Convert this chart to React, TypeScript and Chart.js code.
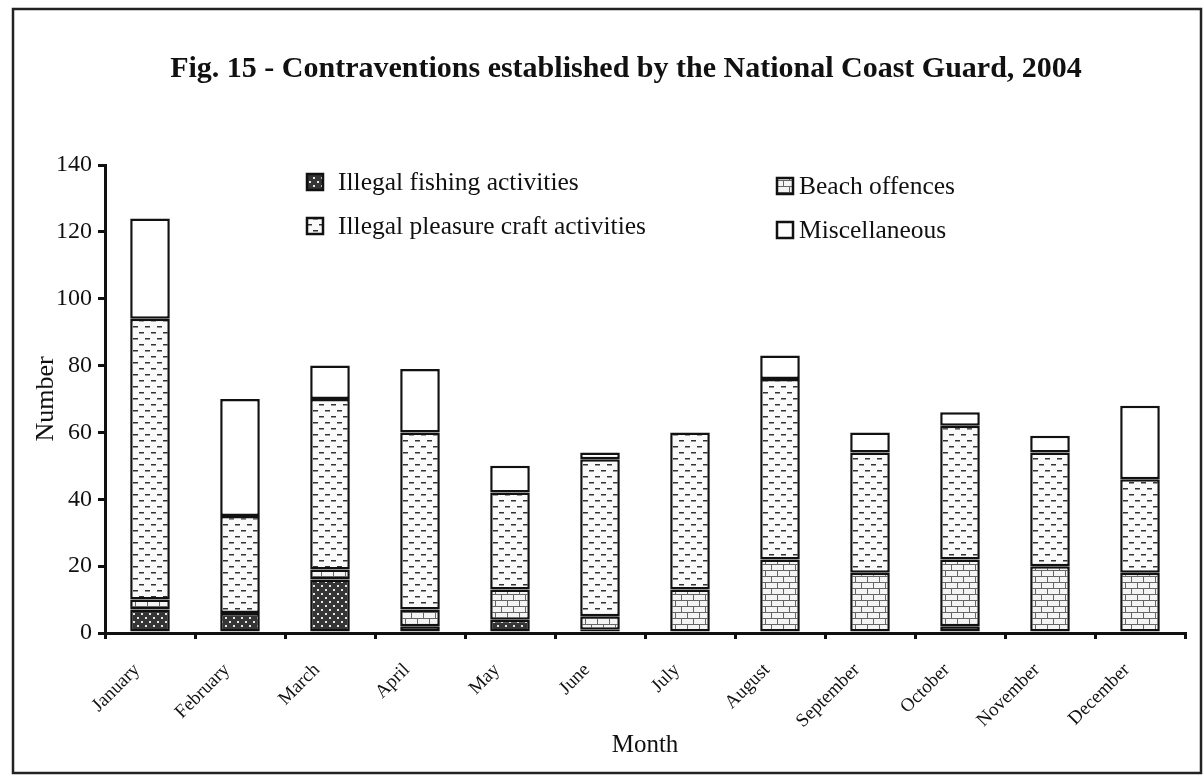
import React, { useEffect, useRef } from "react";
import { Chart, registerables } from "chart.js";

Chart.register(...registerables);

const months = ["January", "February", "March", "April", "May", "June", "July", "August", "September", "October", "November", "December"];
const fishing = [7, 6, 16, 2, 4, 1, 0, 0, 0, 2, 0, 0];
const beach = [3, 0, 3, 5, 9, 4, 13, 22, 18, 20, 20, 18];
const pleasure = [84, 29, 51, 53, 29, 47, 47, 54, 36, 40, 34, 28];
const misc = [30, 35, 10, 19, 8, 2, 0, 7, 6, 4, 5, 22];
const yTicks = [0, 20, 40, 60, 80, 100, 120, 140];

const SERIF = "'Liberation Serif', 'Times New Roman', serif";

function makePattern(w: number, h: number, draw: (c: CanvasRenderingContext2D) => void): CanvasPattern | string {
  const cv = document.createElement("canvas");
  cv.width = w;
  cv.height = h;
  const c = cv.getContext("2d");
  if (!c) return "#fff";
  draw(c);
  const p = c.createPattern(cv, "repeat");
  return p || "#fff";
}

export default function App() {
  const ref = useRef<HTMLCanvasElement | null>(null);
  useEffect(() => {
    if (!ref.current) return;
    const fishPat = makePattern(8, 8, (c) => {
      c.fillStyle = "#353535";
      c.fillRect(0, 0, 8, 8);
      c.fillStyle = "#e8e8e8";
      c.fillRect(1, 1, 2, 2);
      c.fillRect(5, 5, 2, 2);
    });
    const pleasurePat = makePattern(12, 12, (c) => {
      c.fillStyle = "#fafafa";
      c.fillRect(0, 0, 12, 12);
      c.fillStyle = "#333";
      c.fillRect(1, 2, 5, 1.5);
      c.fillRect(7, 8, 5, 1.5);
    });
    const beachPat = makePattern(12, 12, (c) => {
      c.fillStyle = "#f4f4f4";
      c.fillRect(0, 0, 12, 12);
      c.fillStyle = "#666";
      c.fillRect(0, 0, 12, 1);
      c.fillRect(0, 6, 12, 1);
      c.fillRect(3, 0, 1, 6);
      c.fillRect(9, 6, 1, 6);
    });

    const common = {
      borderColor: "#111",
      borderWidth: 2.5,
      borderSkipped: false as const,
      barPercentage: 0.44,
      categoryPercentage: 1,
    };

    const decor = {
      id: "decor",
      beforeDraw(chart: any) {
        const ctx = chart.ctx;
        ctx.save();
        ctx.fillStyle = "#fff";
        ctx.fillRect(0, 0, chart.width, chart.height);
        ctx.restore();
      },
      afterDraw(chart: any) {
        const ctx = chart.ctx;
        ctx.save();
        ctx.strokeStyle = "#222";
        ctx.lineWidth = 2.5;
        ctx.strokeRect(13, 9, 1188, 764);
        ctx.fillStyle = "#111";
        ctx.font = `bold 30px ${SERIF}`;
        ctx.textAlign = "center";
        ctx.textBaseline = "middle";
        ctx.fillText("Fig. 15 - Contraventions established by the National Coast Guard, 2004", 626, 69);
        const items = [
          { ds: 0, x: 307, y: 182 },
          { ds: 2, x: 307, y: 226 },
          { ds: 1, x: 777, y: 186 },
          { ds: 3, x: 777, y: 230 },
        ];
        ctx.font = `25.5px ${SERIF}`;
        ctx.textAlign = "left";
        for (const it of items) {
          const d = chart.data.datasets[it.ds];
          ctx.fillStyle = d.backgroundColor;
          ctx.fillRect(it.x, it.y - 8, 16, 16);
          ctx.strokeStyle = "#111";
          ctx.lineWidth = 2.5;
          ctx.strokeRect(it.x, it.y - 8, 16, 16);
          ctx.fillStyle = "#111";
          ctx.fillText(d.label, it.x + (it.x < 500 ? 31 : 22), it.y + 1);
        }
        ctx.restore();
      },
    };

    const chart = new Chart(ref.current, {
      type: "bar",
      data: {
        labels: months,
        datasets: [
          { label: "Illegal fishing activities", data: fishing, backgroundColor: fishPat as any, ...common },
          { label: "Beach offences", data: beach, backgroundColor: beachPat as any, ...common },
          { label: "Illegal pleasure craft activities", data: pleasure, backgroundColor: pleasurePat as any, ...common },
          { label: "Miscellaneous", data: misc, backgroundColor: "#ffffff", ...common },
        ],
      },
      options: {
        animation: false,
        responsive: false,
        layout: { padding: { left: 0, top: 165, right: 19, bottom: 0 } },
        plugins: { legend: { display: false }, title: { display: false }, tooltip: { enabled: false } },
        scales: {
          x: {
            stacked: true,
            afterFit: (s: any) => { s.height = 145; },
            border: { color: "#111", width: 3 },
            grid: { display: true, drawOnChartArea: false, drawTicks: true, tickLength: 6, color: "#111", lineWidth: 3 },
            ticks: { color: "#111", font: { family: SERIF, size: 19 }, minRotation: 45, maxRotation: 45, padding: 20, labelOffset: -13 },
            title: { display: true, text: "Month", color: "#111", font: { family: SERIF, size: 25 }, padding: { top: 0, bottom: 18 } },
          },
          y: {
            stacked: true,
            min: 0,
            max: 140,
            afterFit: (s: any) => { s.width = 105; },
            afterBuildTicks: (s: any) => { s.ticks = yTicks.map((v) => ({ value: v })); },
            border: { color: "#111", width: 3 },
            grid: { display: true, drawOnChartArea: false, drawTicks: true, tickLength: 7, color: "#111", lineWidth: 3 },
            ticks: { color: "#111", font: { family: SERIF, size: 24 }, padding: 6 },
            title: { display: true, text: "Number", color: "#111", font: { family: SERIF, size: 26 }, padding: { top: 31, bottom: 0 } },
          },
        },
      },
      plugins: [decor],
    });
    return () => chart.destroy();
  }, []);
  return (
    <canvas
      ref={ref}
      width={1204}
      height={778}
      style={{ position: "absolute", left: 0, top: 0, display: "block", width: 1204, height: 778 }}
    />
  );
}
